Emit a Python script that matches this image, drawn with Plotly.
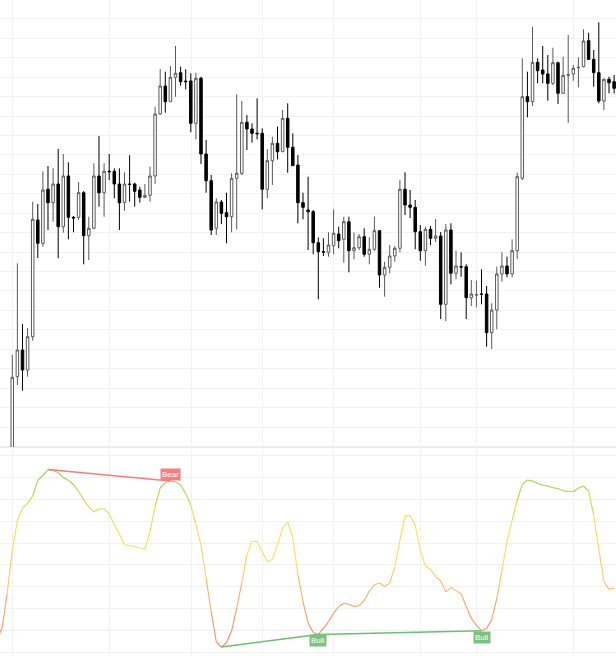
import plotly.graph_objects as go

# ---------------- price data (candle index, OHLC) ----------------
candle_idx = list(range(0, 119))
open_ = [-23, 70.3, 97, 77, 110.3, 227, 203.7, 257.7, 244.3, 263,
         220.3, 271, 229.7, 229.7, 254.3, 211.3, 218.7, 271, 254.3, 275.7,
         275.7, 263, 244.3, 263, 263, 257, 249.7, 251.7, 271, 333,
         361, 345.3, 369.7, 374.3, 366, 366, 323.7, 368.7, 293, 266.3,
         218.7, 245, 234.3, 230.3, 268.7, 273.7, 324.7, 318, 313.7, 313.7,
         257.7, 286.3, 303.7, 295.3, 328.7, 299.7, 282, 244.3, 237, 235.3,
         204.3, 195.3, 194.7, 201.3, 213, 207.7, 225.3, 196.3, 199.3, 210.3,
         192.7, 197.7, 216.3, 172, 179.7, 191, 198.7, 257.7, 242, 239.7,
         215.3, 196.3, 217.7, 208.7, 211, 142.7, 217, 173.7, 180.3, 180.3,
         149.3, 152, 153, 153, 114.3, 137, 173, 181, 173, 196.3,
         268.7, 350.3, 345.3, 384.7, 377, 373, 363.7, 384.3, 353.7, 371.7,
         373, 379.3, 380.3, 406.3, 387.7, 374.3, 346, 367.7, 365.3]
high = [92, 183.7, 123, 119, 245.3, 243, 275.7, 281, 278.7, 298,
        293, 284.7, 231, 265, 256, 230.3, 283.7, 311, 283.7, 293,
        278.7, 278.7, 274.7, 291.7, 264.3, 260.3, 263, 280.3, 340.3, 378,
        375.3, 381, 401, 380.3, 377.7, 373.7, 374.3, 370.3, 307, 272,
        248.7, 247, 254.3, 273.7, 352.7, 346, 332, 323.7, 348.7, 318.7,
        297.7, 310.3, 320.3, 337, 343.7, 313.7, 292, 254.3, 270.3, 237,
        209.7, 208.7, 214.7, 237.7, 220.3, 230.3, 230.3, 214.7, 213, 218.7,
        209.7, 230.3, 217, 185.3, 202, 201, 267, 274.7, 257, 247,
        222, 220.3, 221, 228, 215, 223, 223.7, 196.3, 194.7, 182.7,
        167, 166.3, 177.7, 161, 143.7, 180.3, 194.7, 190.3, 207.7, 274.3,
        388.7, 375.3, 420.3, 388.7, 401, 392, 399.3, 385.3, 390.3, 412,
        382, 389.7, 417.7, 414.3, 397, 424.7, 368.7, 370.3, 372]
low = [-33, 62, 56.3, 70.3, 106.3, 189, 200.3, 217, 225.3, 188.7,
       214.3, 207.7, 214.7, 227, 182.7, 187, 218, 240.3, 230.3, 267,
       248.7, 217, 236.3, 245.3, 240.3, 244.3, 249, 245.3, 263, 332,
       334.3, 345, 350.3, 361.3, 357.7, 314.7, 307.7, 283, 254.3, 212,
       212, 223, 203.7, 214.7, 217.7, 272, 297, 304.3, 307.7, 237.7,
       248.7, 262, 287.7, 295, 274.3, 281, 223.7, 227.7, 197, 192.7,
       147.7, 191, 190.3, 192.7, 198.7, 184.3, 174.7, 187.7, 197, 190.3,
       182.7, 196.3, 159.3, 150.3, 173.7, 185.3, 194.7, 232, 229, 197.7,
       186.3, 181.3, 202, 205, 128, 126, 162.7, 167.7, 170.3, 128,
       141, 139.7, 142.7, 100.3, 98, 117.7, 165.3, 169.7, 169.7, 188,
       267, 329.7, 341, 363.7, 363.7, 346.3, 362, 343, 353, 324.3,
       366.3, 359.7, 379.7, 387, 360.3, 343.7, 337, 353.7, 353.7]
close = [69.7, 97, 77, 110.3, 227.7, 203.7, 257, 244.3, 263, 220.3,
         271, 229.7, 229, 254.3, 211.3, 218.7, 271, 254.3, 275.7, 275.3,
         263, 244.3, 263, 262.6, 255.7, 249.7, 251.7, 271, 333, 361,
         345.3, 369.7, 373.7, 365.3, 365.3, 323.7, 368.7, 293, 266.3, 217,
         245, 233.7, 230.3, 268.7, 273.7, 324.7, 318, 313.7, 313.3, 257.7,
         286.3, 303.7, 295.3, 328.7, 299.7, 281.3, 244.3, 239.7, 235.3, 204.3,
         195.3, 195, 202, 213.7, 206.3, 225.3, 196.3, 199.3, 210.3, 192.7,
         197.7, 216.3, 172, 179.7, 191, 198.7, 257.7, 242, 239.7, 215.3,
         196.3, 217.7, 208.7, 211, 142.7, 217, 173.7, 181, 180, 149.3,
         153, 152.3, 152.7, 114.3, 137, 173, 181, 173, 196.3, 270.3,
         350.3, 345.3, 384.7, 376.3, 373, 363.7, 384.3, 353.7, 371.7, 372.3,
         378.7, 379.6, 406, 387.7, 374.3, 346, 367.7, 364.3, 358.7]

# ---------------- oscillator ----------------
osc_idx = list(range(-3, 119))
osc = [16, 21, 37, 56.8, 70.2, 76.1, 78.4, 81.6, 88.8, 91, 93.8,
       93.3, 92.4, 90.1, 88.8, 86.9, 83.7, 79.8, 76.6, 74.3, 75.7,
       75.7, 73.4, 68.5, 64.2, 59.4, 58.8, 58.4, 57.9, 57.2, 65.3,
       77, 85.3, 87.8, 88.5, 88, 86.7, 82.8, 77.3, 68.5, 59.1,
       44, 28.4, 14.8, 12.3, 14.4, 19.7, 30.2, 41.8, 54.5, 61,
       60.7, 55.9, 51.6, 52.5, 59.1, 66.9, 69.7, 62.4, 45.4, 33,
       23.3, 19, 18.1, 20.9, 24, 27.9, 30.9, 32.4, 32, 30.9,
       31.3, 33.7, 38, 40.9, 41.7, 40.1, 41.7, 49, 61.4, 72.5,
       72.6, 68.3, 56.8, 49.5, 48, 44.6, 42.6, 37.6, 39.6, 38.2,
       36.8, 30.9, 25.5, 22.2, 19.8, 20.8, 24.9, 34.6, 47.4, 60.7,
       70.4, 79.8, 87, 89, 88.5, 87.4, 86.6, 86.2, 85.4, 85.1,
       84, 83.7, 83.6, 85.3, 86.2, 83.9, 72.7, 57.1, 42.3, 38.8, 39.3]

# divergences: (start idx, end idx)
bear_divs = [(7, 31)]
bull_divs = [(41, 60), (60, 92)]

# vertical grid positions (session boundaries)
vgrid = [0, 19, 35.2, 49, 63, 80.1, 91.1, 110]

W, H = 616, 656
X_RANGE = [-2.41, 118.37]


def osc_color(v):
    stops = [(15, (255, 125, 115)), (35, (255, 170, 105)), (55, (255, 222, 95)),
             (72, (232, 226, 82)), (90, (145, 204, 82))]
    if v <= stops[0][0]:
        c = stops[0][1]
    elif v >= stops[-1][0]:
        c = stops[-1][1]
    else:
        for (a, ca), (b, cb) in zip(stops[:-1], stops[1:]):
            if a <= v <= b:
                t = (v - a) / (b - a)
                c = tuple(ca[k] + (cb[k] - ca[k]) * t for k in range(3))
                break
    return "rgb(%d,%d,%d)" % tuple(int(round(x)) for x in c)


fig = go.Figure()

fig.add_trace(go.Candlestick(
    x=candle_idx, open=open_, high=high, low=low, close=close,
    increasing=dict(line=dict(color="#5a5a5a", width=1), fillcolor="#ffffff"),
    decreasing=dict(line=dict(color="#000000", width=1), fillcolor="#000000"),
    whiskerwidth=0, showlegend=False, hoverinfo="skip",
    xaxis="x", yaxis="y",
))

# oscillator drawn segment by segment with gradient colour
for k in range(len(osc) - 1):
    v = (osc[k] + osc[k + 1]) / 2
    fig.add_trace(go.Scatter(
        x=osc_idx[k:k + 2], y=osc[k:k + 2], mode="lines",
        line=dict(color=osc_color(v), width=1.1),
        showlegend=False, hoverinfo="skip", xaxis="x2", yaxis="y2",
    ))

val = dict(zip(osc_idx, osc))
for a, b in bear_divs:
    fig.add_trace(go.Scatter(x=[a, b], y=[val[a], val[b]], mode="lines",
                             line=dict(color="#f77c7c", width=1.6),
                             showlegend=False, hoverinfo="skip", xaxis="x2", yaxis="y2"))
    fig.add_annotation(x=b, y=val[b], xref="x2", yref="y2", text="Bear",
                       showarrow=False, yanchor="bottom", xanchor="center",
                       bgcolor="#f5807e", borderpad=1,
                       font=dict(family="Liberation Sans, Arial", size=8, color="#ffffff"))
for a, b in bull_divs:
    fig.add_trace(go.Scatter(x=[a, b], y=[val[a], val[b]], mode="lines",
                             line=dict(color="#6cbf70", width=1.6),
                             showlegend=False, hoverinfo="skip", xaxis="x2", yaxis="y2"))
    fig.add_annotation(x=b, y=val[b], xref="x2", yref="y2", text="Bull",
                       showarrow=False, yanchor="top", xanchor="center",
                       bgcolor="#7cc27f", borderpad=1,
                       font=dict(family="Liberation Sans, Arial", size=8, color="#ffffff"))

top_low = 1 - 447 / H
bot_high = (H - 449) / H
grid = "#f2f2f2"

fig.update_layout(
    width=W, height=H, margin=dict(l=0, r=0, t=0, b=0),
    paper_bgcolor="#ffffff", plot_bgcolor="#ffffff",
    showlegend=False,
    xaxis=dict(domain=[0, 1], range=X_RANGE, tickmode="array", tickvals=vgrid,
               showticklabels=False, showgrid=True, gridcolor=grid, gridwidth=1,
               zeroline=False, rangeslider=dict(visible=False), anchor="y",
               ticks=""),
    yaxis=dict(domain=[top_low, 1], range=[0, 447], tick0=20, dtick=19.43,
               showticklabels=False, showgrid=True, gridcolor=grid, zeroline=False,
               anchor="x", ticks=""),
    xaxis2=dict(domain=[0, 1], range=X_RANGE, tickmode="array", tickvals=vgrid,
                showticklabels=False, showgrid=True, gridcolor=grid, zeroline=False,
                anchor="y2", ticks=""),
    yaxis2=dict(domain=[0, bot_high], range=[8.2, 103.2], tick0=0, dtick=10,
                showticklabels=False, showgrid=True, gridcolor=grid, zeroline=False,
                anchor="x2", ticks=""),
    shapes=[
        dict(type="line", xref="paper", yref="paper", x0=0, x1=1,
             y0=top_low, y1=top_low, line=dict(color="#dcdcdc", width=1), layer="below"),
        dict(type="line", xref="x2 domain", yref="y2", x0=0, x1=1, y0=80, y1=80,
             line=dict(color="#e4e4e4", width=1), layer="below"),
        dict(type="line", xref="x2 domain", yref="y2", x0=0, x1=1, y0=20, y1=20,
             line=dict(color="#e4e4e4", width=1), layer="below"),
    ],
)

fig.write_html("out.html")
